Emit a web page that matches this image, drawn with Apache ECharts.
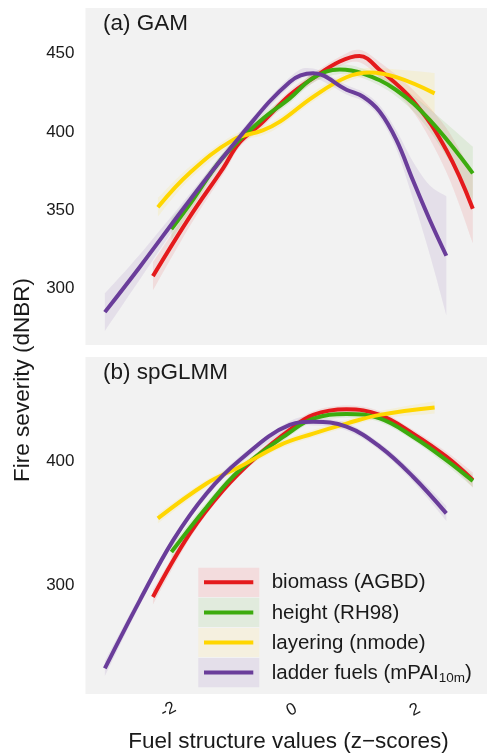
<!DOCTYPE html>
<html>
<head>
<meta charset="utf-8">
<script src="https://cdn.jsdelivr.net/npm/echarts@6/dist/echarts.min.js"></script>
<style>
html, body { margin: 0; padding: 0; background: #fff; }
#main { width: 487px; height: 755px; }
</style>
</head>
<body>
<div id="main"></div>
<script>
// tick labels
const xTicks = [-2, 0, 2]
const yTicksA = [300, 350, 400, 450]
const yTicksB = [300, 400]

const seriesNames = ['biomass (AGBD)', 'height (RH98)', 'layering (nmode)', 'ladder fuels (mPAI{sub|10m})']
const colors = ['#e41a1c', '#3cab0e', '#ffd600', '#6a3d9a']

// (a) GAM  -- x = z-score, y = dNBR, se = half width of the ribbon
const gamBiomassX = [-2.25, -1.65, -1.11, -0.85, -0.49, -0.03, 0.35, 0.78, 1.1, 1.43, 1.97, 2.51, 2.94]
const gamBiomassY = [308, 346, 377, 393, 405.5, 423.6, 434.5, 445, 448.5, 439.6, 420, 388.5, 351]
const gamBiomassSE = [9, 6, 4, 3, 3, 3, 3, 3, 4, 5, 7, 14, 22]

const gamHeightX = [-1.95, -1.65, -1.11, -0.49, -0.03, 0.35, 0.78, 1.15, 1.69, 2.24, 2.94]
const gamHeightY = [338, 354, 384, 407.7, 421.5, 434.5, 440, 437.5, 427, 407.7, 373.6]
const gamHeightSE = [7, 5, 3, 3, 3, 3, 3, 3, 4, 7, 17]

const gamLayerX = [-2.17, -1.65, -0.95, -0.47, -0.19, 0.35, 0.89, 1.27, 1.7, 2.32]
const gamLayerY = [352, 374, 395, 401, 406.6, 422.5, 435, 438, 435, 424.7]
const gamLayerSE = [6, 4, 3, 3, 3, 3, 3, 3, 5, 13]

const gamLadderX = [-3.03, -2.46, -1.65, -0.84, -0.03, 0.35, 0.89, 1.16, 1.43, 1.7, 1.97, 2.24, 2.51]
const gamLadderY = [285, 314, 356.6, 397, 432, 437.5, 427, 422.5, 413, 395, 369, 344, 321]
const gamLadderSE = [12, 8, 4, 3, 3, 3, 3, 3, 4, 6, 12, 22, 38]

// (b) spGLMM
const glmmBiomassX = [-2.25, -1.65, -1.11, -0.57, -0.03, 0.35, 0.89, 1.43, 1.97, 2.51, 2.94]
const glmmBiomassY = [291, 342, 376.7, 403.5, 425, 437, 441.5, 437, 422, 403.5, 384.8]
const glmmBiomassSE = [6, 4, 3, 3, 3, 3, 3, 3, 3, 4, 6]

const glmmHeightX = [-1.95, -1.38, -0.84, -0.03, 0.35, 0.89, 1.43, 1.97, 2.51, 2.94]
const glmmHeightY = [327, 363, 392.8, 423, 434, 437.7, 434.2, 419.5, 400.8, 384]
const glmmHeightSE = [5, 4, 3, 3, 3, 3, 3, 3, 4, 5]

const glmmLayerX = [-2.17, -1.38, -0.84, -0.19, 0.35, 0.89, 1.43, 2.32]
const glmmLayerY = [354, 382, 395.4, 412.8, 422, 430, 437, 443]
const glmmLayerSE = [4, 3, 3, 3, 3, 3, 3, 5]

const glmmLadderX = [-3.03, -2.46, -1.92, -1.38, -0.84, -0.03, 0.35, 0.89, 1.43, 1.97, 2.51]
const glmmLadderY = [233.7, 288.5, 336.6, 374, 400.8, 428.9, 431.5, 427.5, 411.5, 387.4, 358]
const glmmLadderSE = [6, 4, 3, 3, 3, 3, 3, 3, 3, 4, 6]

const panels = [
	[[gamBiomassX, gamBiomassY, gamBiomassSE], [gamHeightX, gamHeightY, gamHeightSE],
	 [gamLayerX, gamLayerY, gamLayerSE], [gamLadderX, gamLadderY, gamLadderSE]],
	[[glmmBiomassX, glmmBiomassY, glmmBiomassSE], [glmmHeightX, glmmHeightY, glmmHeightSE],
	 [glmmLayerX, glmmLayerY, glmmLayerSE], [glmmLadderX, glmmLadderY, glmmLadderSE]]
]

const font = '"Liberation Sans", Arial, Helvetica, sans-serif'
const textColor = '#1a1a1a'

// catmull-rom on pixel points, only to draw a smooth ribbon edge
function smoothEdge(pts, steps) {
	let out = []
	let n = pts.length
	for (let i = 0; i < n - 1; i++) {
		let p0 = pts[Math.max(i - 1, 0)], p1 = pts[i], p2 = pts[i + 1], p3 = pts[Math.min(i + 2, n - 1)]
		for (let s = 0; s < steps; s++) {
			let t = s / steps, t2 = t * t, t3 = t2 * t
			let q = [0, 1].map(function(d) {
				return 0.5 * (2 * p1[d] + (-p0[d] + p2[d]) * t + (2 * p0[d] - 5 * p1[d] + 4 * p2[d] - p3[d]) * t2 +
					(-p0[d] + 3 * p1[d] - 3 * p2[d] + p3[d]) * t3)
			})
			out.push(q)
		}
	}
	out.push(pts[n - 1])
	return out
}

function bandSeries(xs, ys, se, color, gi) {
	return {
		type: 'custom',
		xAxisIndex: gi,
		yAxisIndex: gi,
		silent: true,
		data: [[xs[0], ys[0]]],
		renderItem: function(params, api) {
			let up = [], lo = []
			for (let i = 0; i < xs.length; i++) {
				up.push(api.coord([xs[i], ys[i] + se[i]]))
				lo.push(api.coord([xs[i], ys[i] - se[i]]))
			}
			let pts = smoothEdge(up, 8).concat(smoothEdge(lo, 8).reverse())
			return {
				type: 'polygon',
				shape: { points: pts },
				style: { fill: color, opacity: 0.1 }
			}
		}
	}
}

let series = []
panels.forEach(function(panel, gi) {
	panel.forEach(function(s, k) {
		series.push(bandSeries(s[0], s[1], s[2], colors[k], gi))
	})
	panel.forEach(function(s, k) {
		series.push({
			type: 'line',
			xAxisIndex: gi,
			yAxisIndex: gi,
			data: s[0].map(function(x, i) { return [x, s[1][i]] }),
			smooth: 0.4,
			showSymbol: false,
			silent: true,
			lineStyle: { width: 4, color: colors[k] }
		})
	})
})

function xAxisDef(gi, show) {
	return {
		type: 'value',
		gridIndex: gi,
		min: -3.344,
		max: 3.17,
		axisLine: { show: false },
		axisTick: { show: false },
		splitLine: { show: false },
		axisLabel: {
			show: show,
			customValues: xTicks,
			rotate: 28,
			align: 'center',
			verticalAlign: 'middle',
			margin: 16,
			fontSize: 17,
			fontFamily: font,
			color: textColor
		}
	}
}

function yAxisDef(gi, min, max, ticks) {
	return {
		type: 'value',
		gridIndex: gi,
		min: min,
		max: max,
		axisLine: { show: false },
		axisTick: { show: false },
		splitLine: { show: false },
		axisLabel: {
			customValues: ticks,
			margin: 11,
			fontSize: 17,
			fontFamily: font,
			color: textColor
		}
	}
}

// legend drawn by hand: tinted key boxes with a line in each
let legendItems = []
const legendTints = ['#f3dcdd', '#e1ebdd', '#f5f0df', '#e4dfea']
for (let i = 0; i < 4; i++) {
	let cy = 582.3 + 30.1 * i
	legendItems.push({
		type: 'rect',
		shape: { x: 198.3, y: cy - 14.6, width: 61, height: 29.2 },
		style: { fill: legendTints[i] }
	})
	legendItems.push({
		type: 'line',
		shape: { x1: 204, y1: cy, x2: 253.3, y2: cy },
		style: { stroke: colors[i], lineWidth: 4 }
	})
	legendItems.push({
		type: 'text',
		x: 271.7,
		y: cy + 0.5,
		style: {
			text: seriesNames[i],
			fontSize: 20.5,
			fontFamily: font,
			fill: textColor,
			verticalAlign: 'middle',
			rich: {
				sub: { fontSize: 13.5, fontFamily: font, fill: textColor, padding: [11, 0, 0, 0] }
			}
		}
	})
}

let myChart = echarts.init(document.getElementById('main'), null, { renderer: 'canvas' })

let option = {
	animation: false,
	backgroundColor: '#ffffff',
	grid: [
		{ left: 85.5, top: 8, width: 401.5, height: 337, show: true, backgroundColor: '#f2f2f2', borderWidth: 0 },
		{ left: 85.5, top: 357, width: 401.5, height: 337, show: true, backgroundColor: '#f2f2f2', borderWidth: 0 }
	],
	xAxis: [xAxisDef(0, false), xAxisDef(1, true)],
	yAxis: [yAxisDef(0, 264, 479.2, yTicksA), yAxisDef(1, 213.2, 483.4, yTicksB)],
	series: series,
	graphic: [
		{
			type: 'text', x: 103, y: 24,
			style: { text: '(a) GAM', fontSize: 22.5, fontFamily: font, fill: textColor, verticalAlign: 'middle' }
		},
		{
			type: 'text', x: 103, y: 372.5,
			style: { text: '(b) spGLMM', fontSize: 22.5, fontFamily: font, fill: textColor, verticalAlign: 'middle' }
		},
		{
			type: 'text', x: 23, y: 380, rotation: Math.PI / 2,
			style: { text: 'Fire severity (dNBR)', fontSize: 22.5, fontFamily: font, fill: textColor, align: 'center', verticalAlign: 'middle' }
		},
		{
			type: 'text', x: 288.5, y: 742,
			style: { text: 'Fuel structure values (z\u2212scores)', fontSize: 22.5, fontFamily: font, fill: textColor, align: 'center', verticalAlign: 'middle' }
		}
	].concat(legendItems)
}

myChart.setOption(option)
</script>
</body>
</html>
